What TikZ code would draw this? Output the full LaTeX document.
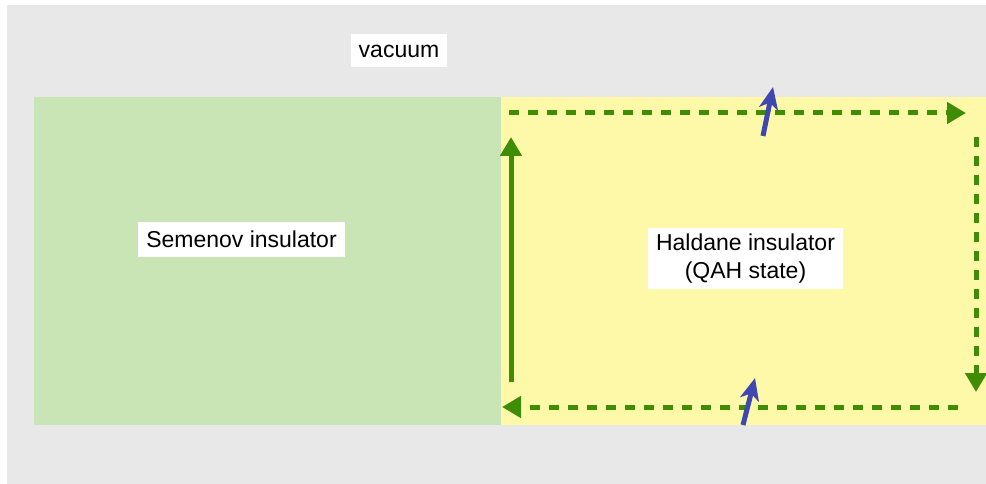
\documentclass[tikz,border=0pt]{standalone}
\usepackage{fontspec}
\setmainfont{Liberation Sans}
\usetikzlibrary{arrows.meta}
\definecolor{vacgray}{HTML}{E8E8E8}
\definecolor{semgreen}{HTML}{C9E4B5}
\definecolor{halyellow}{HTML}{FEF9A9}
\definecolor{edgegreen}{HTML}{3F8C05}
\definecolor{spinblue}{HTML}{3F48B0}
\tikzset{
  label box/.style={fill=white, inner sep=0pt, font=\fontsize{23}{28}\selectfont, align=center},
  edge flow/.style={draw=edgegreen, line width=5pt, -{Triangle[length=19pt,width=21pt]}},
  edge dashed/.style={edge flow, dash pattern=on 10pt off 9pt},
  spin/.style={draw=spinblue, line width=5pt, -{Stealth[length=22pt,width=19pt,inset=6pt]}}
}
\begin{document}
\begin{tikzpicture}[x=1pt,y=-1pt]
\useasboundingbox (0,0) rectangle (986,484);
% vacuum background
\fill[white] (0,0) rectangle (986,484);
\fill[vacgray] (7,5) rectangle (986,484);
% the two insulators
\fill[semgreen] (34,97) rectangle (501,425);
\fill[halyellow] (501,97) rectangle (986,425);
% labels
\node[label box, minimum width=96pt, minimum height=33pt] (vac) at (399,51) {vacuum};
\node[label box, minimum width=207pt, minimum height=35pt] (sem) at (241.5,239.5) {Semenov insulator};
\node[label box, minimum width=195pt, minimum height=61pt] (hal) at (745.5,258.5) {Haldane insulator\\(QAH state)};
% edge-state corners
\coordinate (bl) at (511,382);
\coordinate (tl) at (511,137);
\coordinate (ts) at (509,113);
\coordinate (te) at (966,113);
\coordinate (rs) at (976,137);
\coordinate (re) at (976,392);
\coordinate (bs) at (958,407);
\coordinate (be) at (502,407);
% chiral edge current
\draw[edge flow] (bl) -- (tl);
\draw[edge dashed] (ts) -- (te);
\draw[edge dashed] (rs) -- (re);
\draw[edge dashed] (bs) -- (be);
% spin arrows
\coordinate (u0) at (763,136);
\coordinate (u1) at (773,87);
\coordinate (d0) at (743,425);
\coordinate (d1) at (755,378);
\draw[spin] (u0) -- (u1);
\draw[spin] (d0) -- (d1);
\end{tikzpicture}
\end{document}
